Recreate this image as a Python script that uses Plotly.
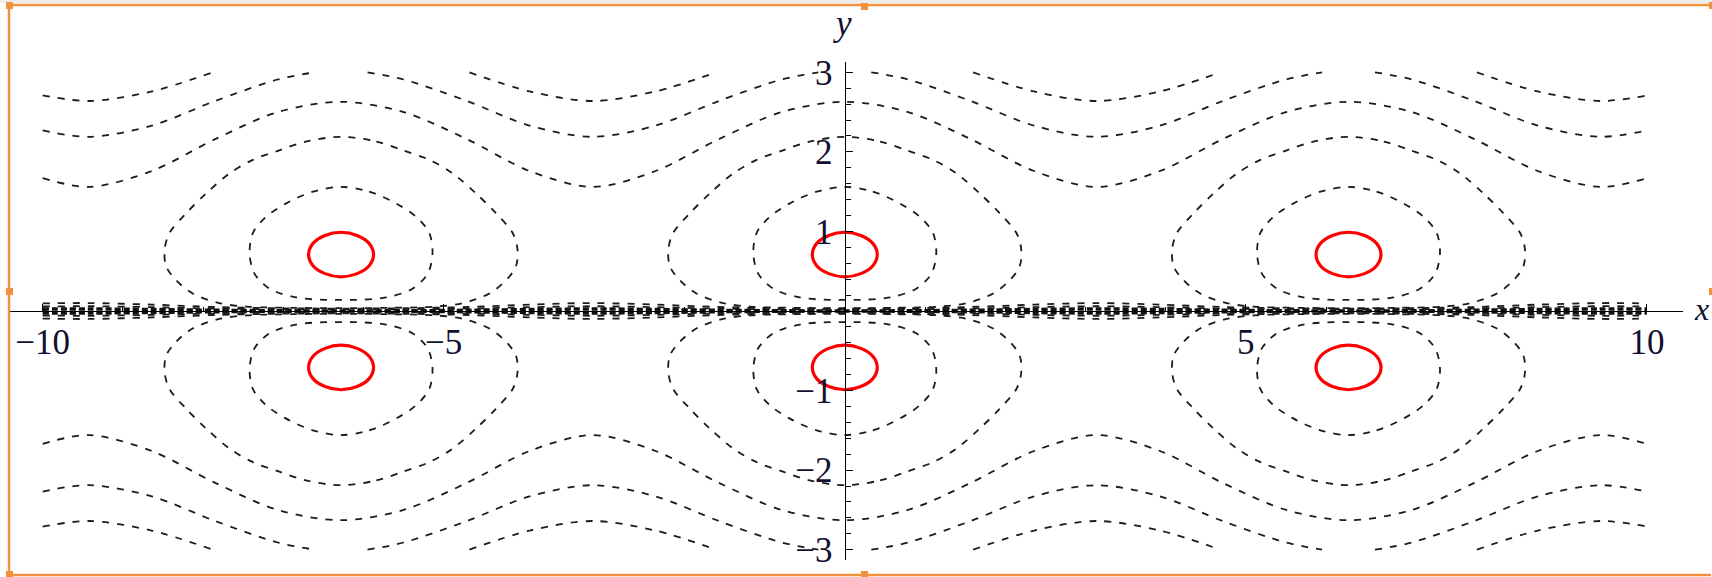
import plotly.graph_objects as go

# ---------------- data ----------------
# x positions used for the open (wavy) contour curves
WAVE_X = [-10.0, -9.42, -8.64, -7.85, -7.07, -6.28, -5.50, -4.71, -3.93, -3.14,
          -2.36, -1.57, -0.79, 0.0, 0.79, 1.57, 2.36, 3.14, 3.93, 4.71, 5.50,
          6.28, 7.07, 7.85, 8.64, 9.42, 10.0]

# lowest wavy contour above the cells (upper half)
W1_Y = [1.67, 1.56, 1.76, 2.16, 2.50, 2.63, 2.50, 2.16, 1.76, 1.56, 1.76, 2.16,
        2.50, 2.63, 2.50, 2.16, 1.76, 1.56, 1.76, 2.16, 2.50, 2.63, 2.50, 2.16,
        1.76, 1.56, 1.67]

# second wavy contour (crests cut off at the plot edge y = 3)
W2_X = [-10.0, -9.42, -8.64, -7.85, -7.07, -6.61, None, -5.95, -5.50, -4.71,
        -3.93, -3.14, -2.36, -1.57, -0.79, -0.33, None, 0.33, 0.79, 1.57, 2.36,
        3.14, 3.93, 4.71, 5.50, 5.95, None, 6.61, 7.07, 7.85, 8.64, 9.42, 10.0]
W2_Y = [2.27, 2.19, 2.33, 2.64, 2.91, 3.0, None, 3.0, 2.91, 2.64, 2.33, 2.19,
        2.33, 2.64, 2.91, 3.0, None, 3.0, 2.91, 2.64, 2.33, 2.19, 2.33, 2.64,
        2.91, 3.0, None, 3.0, 2.91, 2.64, 2.33, 2.19, 2.27]

# top wavy contour (only troughs visible)
W3_X = [-10.0, -9.42, -8.64, -7.88, None, -4.68, -3.93, -3.14, -2.36, -1.60,
        None, 1.60, 2.36, 3.14, 3.93, 4.68, None, 7.88, 8.64, 9.42, 10.0]
W3_Y = [2.71, 2.64, 2.76, 3.0, None, 3.0, 2.76, 2.64, 2.76, 3.0,
        None, 3.0, 2.76, 2.64, 2.76, 3.0, None, 3.0, 2.76, 2.64, 2.71]

# contours squeezed against the x axis (upper half)
B1_Y = [0.095, 0.10, 0.08, 0.05, 0.035, 0.03, 0.035, 0.05, 0.08, 0.10, 0.08,
        0.05, 0.035, 0.03, 0.035, 0.05, 0.08, 0.10, 0.08, 0.05, 0.035, 0.03,
        0.035, 0.05, 0.08, 0.10, 0.095]
B2_Y = [0.057, 0.06, 0.048, 0.03, 0.021, 0.018, 0.021, 0.03, 0.048, 0.06, 0.048,
        0.03, 0.021, 0.018, 0.021, 0.03, 0.048, 0.06, 0.048, 0.03, 0.021, 0.018,
        0.021, 0.03, 0.048, 0.06, 0.057]
B3_Y = [0.033, 0.035, 0.028, 0.018, 0.012, 0.01, 0.012, 0.018, 0.028, 0.035,
        0.028, 0.018, 0.012, 0.01, 0.012, 0.018, 0.028, 0.035, 0.028, 0.018,
        0.012, 0.01, 0.012, 0.018, 0.028, 0.035, 0.033]
B4_Y = [0.014, 0.015, 0.012, 0.008, 0.005, 0.004, 0.005, 0.008, 0.012, 0.015,
        0.012, 0.008, 0.005, 0.004, 0.005, 0.008, 0.012, 0.015, 0.012, 0.008,
        0.005, 0.004, 0.005, 0.008, 0.012, 0.015, 0.014]

# x centres of the cells
CELL_CX = [-6.28, 0.0, 6.28]

# inner dashed loop around each cell (x offset from centre, y)
L1_DX = [0, 0.35, 0.69, 0.94, 1.10, 1.14, 1.08, 0.89, 0.56, 0.19, 0, -0.19,
         -0.56, -0.89, -1.08, -1.14, -1.10, -0.94, -0.69, -0.35, 0]
L1_Y = [1.56, 1.50, 1.35, 1.18, 0.98, 0.72, 0.47, 0.28, 0.17, 0.14, 0.14, 0.14,
        0.17, 0.28, 0.47, 0.72, 0.98, 1.18, 1.35, 1.50, 1.56]

# outer dashed loop around each cell
L2_DX = [0, 0.44, 0.77, 1.10, 1.39, 1.68, 1.93, 2.14, 2.20, 2.18, 2.06, 1.85,
         1.52, 1.18, 0.6, 0, -0.6, -1.18, -1.52, -1.85, -2.06, -2.18, -2.20,
         -2.14, -1.93, -1.68, -1.39, -1.10, -0.77, -0.44, 0]
L2_Y = [2.19, 2.13, 2.02, 1.90, 1.73, 1.48, 1.23, 0.98, 0.77, 0.56, 0.39, 0.22,
        0.10, 0.055, 0.04, 0.035, 0.04, 0.055, 0.10, 0.22, 0.39, 0.56, 0.77,
        0.98, 1.23, 1.48, 1.73, 1.90, 2.02, 2.13, 2.19]

# red closed contour (x offset, y)
RED_DX = [0.405, 0.35, 0.20, 0, -0.20, -0.35, -0.405, -0.35, -0.20, 0, 0.20, 0.35, 0.405]
RED_Y = [0.71, 0.85, 0.95, 0.99, 0.95, 0.85, 0.71, 0.57, 0.47, 0.43, 0.47, 0.57, 0.71]

X_TICKS = [-10, -5, 5, 10]
X_TICK_TEXT = ["\u221210", "\u22125", "5", "10"]
Y_TICKS = [-3, -2, -1, 1, 2, 3]
Y_TICK_TEXT = ["\u22123", "\u22122", "\u22121", "1", "2", "3"]

# ---------------- figure ----------------
W, H = 1712, 577
ML, MR, MT, MB = 9, 29, 62, 17
PW, PH = W - ML - MR, H - MT - MB

DASH_STYLE = dict(color="#1c1c1c", width=1.8, dash="7px,8px", shape="spline", smoothing=0.9)
DENSE_STYLE = dict(color="#111111", width=2.0, dash="6px,3px", shape="spline", smoothing=0.9)
RED_STYLE = dict(color="#ff0000", width=3.2, shape="spline", smoothing=1.0)


def neg(vals):
    return [None if v is None else -v for v in vals]


fig = go.Figure()


def add(xs, ys, style):
    fig.add_trace(go.Scatter(x=xs, y=ys, mode="lines", line=style,
                             hoverinfo="skip", showlegend=False, connectgaps=False))


for ys, st in ((B4_Y, DENSE_STYLE), (B3_Y, DENSE_STYLE), (B2_Y, DASH_STYLE), (B1_Y, DASH_STYLE)):
    add(WAVE_X, ys, st)
    add(WAVE_X, neg(ys), st)

add(WAVE_X, W1_Y, DASH_STYLE)
add(WAVE_X, neg(W1_Y), DASH_STYLE)
add(W2_X, W2_Y, DASH_STYLE)
add(W2_X, neg(W2_Y), DASH_STYLE)
add(W3_X, W3_Y, DASH_STYLE)
add(W3_X, neg(W3_Y), DASH_STYLE)

for cx in CELL_CX:
    for dx, ys in ((L1_DX, L1_Y), (L2_DX, L2_Y)):
        xs = [cx + d for d in dx]
        add(xs, ys, DASH_STYLE)
        add(xs, neg(ys), DASH_STYLE)

for cx in CELL_CX:
    xs = [cx + d for d in RED_DX]
    add(xs, RED_Y, RED_STYLE)
    add(xs, neg(RED_Y), RED_STYLE)

XR = [-10.42, 10.45]
YR = [-3.13, 3.13]
x0_frac = (0 - XR[0]) / (XR[1] - XR[0])
y0_frac = (0 - YR[0]) / (YR[1] - YR[0])

SERIF = "Liberation Serif, Times New Roman, serif"
tickfont = dict(family=SERIF, size=35, color="#101030")

fig.update_layout(
    width=W, height=H,
    margin=dict(l=ML, r=MR, t=MT, b=MB, pad=0),
    paper_bgcolor="white", plot_bgcolor="white",
    xaxis=dict(range=XR, showgrid=False, zeroline=False, showline=True,
               linecolor="black", linewidth=1.4, anchor="free", position=y0_frac,
               tickmode="array", tickvals=X_TICKS, ticktext=X_TICK_TEXT,
               ticks="inside", ticklen=7, tickwidth=1.2, tickcolor="black",
               minor=dict(ticks="inside", ticklen=4, tickmode="linear", tick0=0,
                          dtick=1, tickcolor="black", tickwidth=1),
               tickfont=tickfont, ticklabelstandoff=0, automargin=False,
               fixedrange=True),
    yaxis=dict(range=YR, showgrid=False, zeroline=False, showline=True,
               linecolor="black", linewidth=1.4, anchor="free", position=x0_frac,
               side="left",
               tickmode="array", tickvals=Y_TICKS, ticktext=Y_TICK_TEXT,
               ticks="inside", ticklen=7, tickwidth=1.2, tickcolor="black",
               minor=dict(ticks="inside", ticklen=5, tickmode="linear", tick0=0,
                          dtick=0.2, tickcolor="black", tickwidth=1),
               tickfont=tickfont, ticklabelstandoff=5, automargin=False,
               fixedrange=True),
)


def px_x(px):
    return (px - ML) / PW


def px_y(py):
    return (H - MB - py) / PH


fig.add_annotation(text="<i>y</i>", x=px_x(842), y=px_y(24), xref="paper", yref="paper",
                   showarrow=False, xanchor="center", yanchor="middle",
                   font=dict(family=SERIF, size=35, color="#101030"))
fig.add_annotation(text="<i>x</i>", x=px_x(1692), y=px_y(309), xref="paper", yref="paper",
                   showarrow=False, xanchor="left", yanchor="middle",
                   font=dict(family=SERIF, size=32, color="#101030"))

# frame decoration (selection border around the picture; right edge lies off-canvas)
ORANGE = "#F4913F"
shapes = []
shapes.append(dict(type="rect", xref="paper", yref="paper",
                   x0=px_x(0), x1=px_x(W), y0=px_y(3), y1=px_y(0),
                   line=dict(width=0), fillcolor="#ececec", layer="below"))
for (ax, ay, bx, by) in [(9, 5, 1711, 5), (9, 5, 9, 575), (9, 575, 1711, 575)]:
    shapes.append(dict(type="line", xref="paper", yref="paper",
                       x0=px_x(ax), x1=px_x(bx), y0=px_y(ay), y1=px_y(by),
                       line=dict(color=ORANGE, width=2.5), layer="above"))
for hx, hy in [(9, 5), (864, 6), (9, 291), (9, 574), (864, 574)]:
    shapes.append(dict(type="rect", xref="paper", yref="paper",
                       x0=px_x(hx - 3), x1=px_x(hx + 4), y0=px_y(hy + 4), y1=px_y(hy - 3),
                       line=dict(width=0), fillcolor=ORANGE, layer="above"))
for hy in (5, 291):
    shapes.append(dict(type="rect", xref="paper", yref="paper",
                       x0=px_x(1709), x1=px_x(1712), y0=px_y(hy + 4), y1=px_y(hy - 3),
                       line=dict(width=0), fillcolor=ORANGE, layer="above"))
fig.update_layout(shapes=shapes)

fig.write_html("out.html",
               config={"displayModeBar": False},
               post_script="document.body.style.margin='0px';"
                           "document.body.style.overflow='hidden';")
